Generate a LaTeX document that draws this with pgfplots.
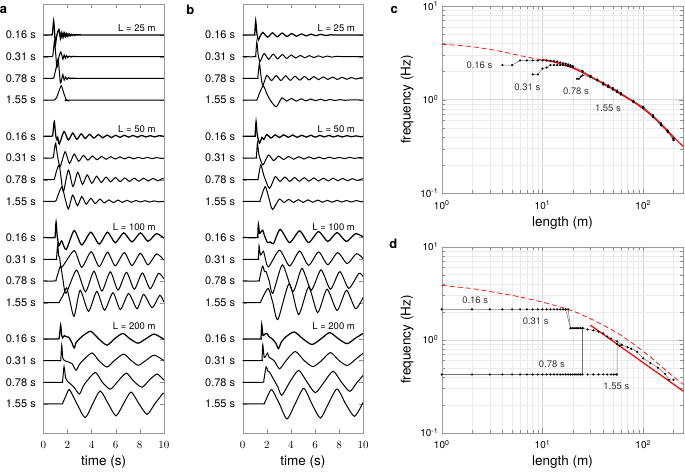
\documentclass[border=0pt]{standalone}
\usepackage{pgfplots}
\pgfplotsset{compat=1.18}
\usepackage{fontspec}
\setmainfont{TeX Gyre Heros}
\tikzset{
  lab/.style={anchor=east, font=\fontsize{9.5}{11}\selectfont},
  ann/.style={font=\fontsize{9.5}{11}\selectfont, text=black!80},
}
\pgfplotsset{
  trace/.style={black, line width=1.0pt, smooth, tension=0.4, mark=none, y filter/.expression={y-#1}},
  tracen/.style={trace=#1, line width=1.25pt},
  wave/.style={scale only axis, anchor=south west, width=120.5pt, height=429pt,
    xmin=0, xmax=10, ymin=-18.35, ymax=1.43,
    xtick={0,2,4,6,8,10},
    ytick={-17.01,-16.01,-15.01,-14.01,-12.34,-11.34,-10.34,-9.34,-7.67,-6.67,-5.67,-4.67,-3,-2,-1,0},
    yticklabels={1.55 s,0.78 s,0.31 s,0.16 s,1.55 s,0.78 s,0.31 s,0.16 s,1.55 s,0.78 s,0.31 s,0.16 s,1.55 s,0.78 s,0.31 s,0.16 s},
    axis line style={black!40}, tick style={black!45},
    tick label style={font=\fontsize{11}{13}\selectfont},
    xticklabel shift=5pt, yticklabel shift=4pt,
    xlabel={time (s)}, xlabel style={font=\fontsize{13.5}{16}\selectfont},
    clip=true},
  logax/.style={scale only axis, anchor=south west, width=241.6pt,
    xmin=1, xmax=250, ymin=0.1, ymax=10,
    xtick={1,10,100}, xticklabels={10\textsuperscript{0},10\textsuperscript{1},10\textsuperscript{2}},
    ytick={0.1,1,10}, yticklabels={10\textsuperscript{-1},10\textsuperscript{0},10\textsuperscript{1}},
    minor xtick={2,3,4,5,6,7,8,9,20,30,40,50,60,70,80,90,200},
    minor ytick={0.2,0.3,0.4,0.5,0.6,0.7,0.8,0.9,2,3,4,5,6,7,8,9},
    grid=both, major grid style={black!16}, minor grid style={black!8},
    axis line style={black!40}, tick style={black!45},
    tick label style={font=\fontsize{10}{12}\selectfont},
    xticklabel shift=4pt,
    xlabel={length (m)}, ylabel={frequency (Hz)},
    label style={font=\fontsize{13.5}{16}\selectfont}},
  ser/.style={black!55, line width=0.5pt, mark=*, mark size=0.8pt, mark options={black, draw=black}},
}
\begin{document}
\begin{tikzpicture}
\path[use as bounding box] (0,0) rectangle (685pt,475pt);

% ---------------- panel a ----------------
\begin{axis}[wave, at={(43.3pt,42pt)}]
% L = 25
\addplot[tracen=0] coordinates {(0,0)(0.65,0)(0.74,0.02)(0.82,0.45)(0.86,0.66)(0.92,0.3)(0.97,-0.2)(1.02,-0.42)(1.08,-0.15)(1.15,0.05)(1.22,0.18)(1.3,0.26)(1.36,0.05)(1.42,-0.15)(1.49,0.1)(1.56,-0.1)(1.63,0.09)(1.7,-0.08)(1.77,0.07)(1.84,-0.06)(1.91,0.06)(1.98,-0.05)(2.05,0.05)(2.12,-0.04)(2.19,0.04)(2.26,-0.03)(2.33,0.03)(2.4,-0.02)(2.5,0.02)(2.6,-0.015)(2.75,0.01)(2.9,0)(10,0)};
\addplot[trace=1] coordinates {(0,0)(0.7,0)(0.78,0.03)(0.86,0.4)(0.92,0.7)(0.98,0.45)(1.05,0.0)(1.12,-0.5)(1.2,-0.35)(1.3,0.0)(1.45,0.22)(1.55,0.05)(1.63,-0.12)(1.73,0.08)(1.83,-0.07)(1.93,0.05)(2.03,-0.04)(2.15,0.03)(2.3,-0.02)(2.45,0.01)(2.65,0)(10,0)};
\addplot[trace=2] coordinates {(0,0)(0.8,0)(0.88,0.04)(1.05,0.45)(1.22,0.9)(1.32,0.4)(1.42,-0.22)(1.52,-0.05)(1.62,0.18)(1.73,-0.08)(1.85,0.07)(1.97,-0.05)(2.1,0.04)(2.25,-0.02)(2.4,0.01)(2.6,0)(10,0)};
\addplot[trace=3] coordinates {(0,0)(0.9,0)(1.0,0.03)(1.15,0.18)(1.3,0.42)(1.5,0.66)(1.7,0.32)(1.9,0.03)(2.05,-0.03)(2.2,0)(10,0)};
% L = 50
\addplot[tracen=4.67] coordinates {(0,0)(0.7,0)(0.78,0.03)(0.85,0.45)(0.92,0.68)(1.0,0.2)(1.06,-0.05)(1.13,-0.15)(1.2,-0.05)(1.33,-0.35)(1.72,0.22)(2.08,-0.17)(2.44,0.15)(2.78,-0.14)(3.14,0.11)(3.48,-0.1)(3.83,0.09)(4.2,-0.08)(4.58,0.08)(4.93,-0.07)(5.3,0.06)(5.65,-0.06)(6.0,0.05)(6.36,-0.05)(6.72,0.05)(7.08,-0.04)(7.44,0.04)(7.8,-0.04)(8.16,0.04)(8.52,-0.03)(8.88,0.03)(9.24,-0.03)(9.6,0.03)(10,0)};
\addplot[trace=5.67] coordinates {(0,0)(0.75,0)(0.83,0.03)(0.95,0.5)(1.03,0.68)(1.15,0.2)(1.39,-0.4)(1.81,0.29)(2.17,-0.25)(2.56,0.18)(2.94,-0.15)(3.33,0.12)(3.7,-0.1)(4.08,0.09)(4.46,-0.08)(4.84,0.07)(5.22,-0.06)(5.6,0.06)(5.98,-0.05)(6.36,0.05)(6.74,-0.04)(7.12,0.04)(7.5,-0.04)(7.88,0.03)(8.26,-0.03)(8.64,0.03)(9.02,-0.03)(9.4,0.02)(9.78,-0.02)(10,0)};
\addplot[trace=6.67] coordinates {(0,0)(0.85,0)(0.92,0.03)(1.1,0.4)(1.31,0.68)(1.45,0.2)(1.67,-0.55)(2.08,0.45)(2.46,-0.32)(2.86,0.34)(3.25,-0.22)(3.64,0.22)(4.03,-0.17)(4.42,0.16)(4.81,-0.13)(5.2,0.12)(5.59,-0.1)(5.98,0.1)(6.37,-0.09)(6.76,0.08)(7.15,-0.08)(7.54,0.07)(7.93,-0.07)(8.32,0.07)(8.71,-0.06)(9.1,0.06)(9.49,-0.05)(9.88,0.05)(10,0.03)};
\addplot[trace=7.67] coordinates {(0,0)(0.95,0)(1.06,0.03)(1.3,0.4)(1.56,0.68)(1.8,0.15)(2.08,-0.35)(2.44,0.29)(2.83,-0.2)(3.19,0.22)(3.56,-0.13)(3.94,0.14)(4.31,-0.1)(4.69,0.1)(5.06,-0.07)(5.44,0.07)(5.81,-0.06)(6.19,0.06)(6.56,-0.05)(6.94,0.05)(7.31,-0.04)(7.69,0.04)(8.06,-0.03)(8.44,0.03)(8.81,-0.03)(9.19,0.02)(9.56,-0.02)(10,0)};
% L = 100
\addplot[tracen=9.34] coordinates {(0,0)(0.9,0)(0.98,0.05)(1.06,0.72)(1.15,0.1)(1.3,-0.38)(1.52,-0.15)(1.9,-0.55)(2.56,0.32)(3.19,-0.34)(3.94,0.25)(4.64,-0.3)(5.33,0.25)(5.97,-0.24)(6.67,0.22)(7.36,-0.2)(8.06,0.22)(8.69,-0.17)(9.39,0.18)(10,-0.02)};
\addplot[trace=10.34] coordinates {(0,0)(1.05,0)(1.1,0.05)(1.19,0.66)(1.28,0.15)(1.36,0.08)(1.53,-0.37)(2.56,0.4)(3.19,-0.37)(3.97,0.35)(4.64,-0.34)(5.33,0.32)(5.97,-0.3)(6.72,0.31)(7.36,-0.29)(8.06,0.28)(8.69,-0.26)(9.39,0.25)(10,-0.03)};
\addplot[trace=11.34] coordinates {(0,0)(1.0,0)(1.06,0.05)(1.25,0.4)(1.44,0.69)(1.62,0.1)(1.89,-0.57)(2.75,0.5)(3.5,-0.5)(4.2,0.45)(4.86,-0.46)(5.56,0.42)(6.2,-0.42)(6.9,0.4)(7.55,-0.38)(8.22,0.37)(8.87,-0.36)(9.55,0.35)(10,0.1)};
\addplot[trace=12.34] coordinates {(0,0)(1.25,0)(1.33,0.03)(1.65,0.35)(1.94,0.68)(2.2,0.1)(2.56,-0.63)(3.06,0.57)(3.75,-0.4)(4.44,0.52)(5.08,-0.35)(5.78,0.46)(6.39,-0.32)(7.08,0.42)(7.78,-0.28)(8.33,0.38)(9.03,-0.23)(9.67,0.34)(10,0.03)};
% L = 200
\addplot[tracen=14.01] coordinates {(0,0)(1.2,0)(1.32,0.05)(1.44,0.63)(1.52,0.2)(1.6,0.05)(1.75,0.15)(1.9,0.1)(2.1,0.08)(2.35,-0.15)(2.56,-0.42)(2.7,-0.2)(2.9,-0.05)(3.3,0.15)(3.94,0.35)(4.6,0.0)(5.28,-0.29)(5.9,0.0)(6.6,0.25)(7.2,0.0)(7.86,-0.2)(8.5,0.0)(9.2,0.22)(10,-0.02)};
\addplot[trace=15.01] coordinates {(0,0)(1.35,0)(1.45,0.05)(1.53,0.7)(1.62,0.1)(1.75,0.0)(2.0,-0.05)(2.4,-0.15)(2.72,-0.45)(3.1,-0.1)(4.03,0.35)(4.6,0.0)(5.28,-0.3)(5.9,0.0)(6.67,0.3)(7.3,0.0)(7.89,-0.22)(8.5,0.0)(9.2,0.25)(10,0.0)};
\addplot[trace=16.01] coordinates {(0,0)(1.5,0)(1.6,0.05)(1.72,0.72)(1.85,0.2)(2.0,0.05)(2.5,-0.2)(3.0,-0.54)(3.4,-0.1)(4.3,0.45)(4.9,0.0)(5.56,-0.32)(6.2,0.05)(6.89,0.42)(7.5,0.05)(8.19,-0.23)(8.8,0.1)(9.44,0.38)(10,0.1)};
\addplot[trace=17.01] coordinates {(0,0)(1.5,0)(1.6,0.03)(1.9,0.4)(2.17,0.66)(2.8,0.0)(3.47,-0.63)(4.1,0.0)(4.72,0.6)(5.4,0.0)(6.03,-0.55)(6.65,0.0)(7.28,0.55)(7.95,0.0)(8.61,-0.48)(9.25,0.0)(9.92,0.48)(10,0.47)};
\node[lab] at (axis cs:9.6,0.33) {L = 25 m};
\node[lab] at (axis cs:9.6,-4.36) {L = 50 m};
\node[lab] at (axis cs:9.6,-8.85) {L = 100 m};
\node[lab] at (axis cs:9.6,-13.44) {L = 200 m};
\end{axis}

% ---------------- panel b ----------------
\begin{axis}[wave, at={(242.7pt,42pt)}]
% L = 25
\addplot[tracen=0] coordinates {(0,0)(0.95,0)(1.0,0.05)(1.08,0.66)(1.17,0.1)(1.3,-0.23)(1.45,-0.05)(1.67,0.12)(2.07,-0.1)(2.47,0.1)(2.87,-0.08)(3.27,0.09)(3.67,-0.07)(4.07,0.07)(4.47,-0.06)(4.87,0.05)(5.27,-0.04)(5.67,0.04)(6.07,-0.03)(6.47,0.03)(6.87,-0.02)(7.3,0.01)(7.8,0)(10,0)};
\addplot[trace=1] coordinates {(0,0)(1.02,0)(1.08,0.05)(1.17,0.68)(1.28,0.1)(1.44,-0.22)(1.78,0.15)(2.15,-0.12)(2.53,0.12)(2.9,-0.1)(3.28,0.1)(3.65,-0.08)(4.03,0.08)(4.4,-0.06)(4.78,0.06)(5.15,-0.05)(5.53,0.05)(5.9,-0.04)(6.28,0.04)(6.65,-0.03)(7.03,0.03)(7.4,-0.02)(7.8,0.02)(8.3,0)(10,0)};
\addplot[trace=2] coordinates {(0,0)(1.2,0)(1.26,0.05)(1.39,0.69)(1.52,0.1)(1.67,-0.32)(2.0,0.14)(2.39,-0.1)(2.78,0.13)(3.17,-0.1)(3.56,0.12)(3.95,-0.09)(4.34,0.1)(4.73,-0.08)(5.12,0.09)(5.51,-0.07)(5.9,0.08)(6.29,-0.06)(6.68,0.07)(7.07,-0.05)(7.46,0.06)(7.85,-0.05)(8.24,0.05)(8.63,-0.04)(9.02,0.04)(9.41,-0.03)(9.8,0.03)(10,0.01)};
\addplot[trace=3] coordinates {(0,0)(1.1,0)(1.2,0.03)(1.45,0.4)(1.72,0.65)(2.0,0.3)(2.28,0.0)(2.78,-0.31)(3.25,0.1)(3.65,-0.05)(4.05,0.08)(4.45,-0.05)(4.85,0.06)(5.25,-0.04)(5.65,0.05)(6.05,-0.03)(6.45,0.04)(6.85,-0.03)(7.25,0.03)(7.65,-0.02)(8.05,0.02)(8.5,-0.01)(9,0.01)(10,0)};
% L = 50
\addplot[tracen=4.67] coordinates {(0,0)(0.98,0)(1.03,0.05)(1.11,0.68)(1.2,0.1)(1.39,-0.32)(1.6,-0.05)(1.75,-0.15)(2.0,0.08)(2.35,-0.08)(2.7,0.07)(3.05,-0.06)(3.4,0.07)(3.78,-0.05)(4.15,0.06)(4.52,-0.05)(4.9,0.05)(5.28,-0.04)(5.65,0.05)(6.02,-0.04)(6.4,0.04)(6.78,-0.03)(7.15,0.04)(7.52,-0.03)(7.9,0.03)(8.28,-0.03)(8.65,0.03)(9.02,-0.02)(9.4,0.02)(9.78,-0.02)(10,0)};
\addplot[trace=5.67] coordinates {(0,0)(1.08,0)(1.14,0.05)(1.22,0.68)(1.35,0.15)(1.67,-0.32)(2.14,0.14)(2.56,-0.12)(2.98,0.08)(3.4,-0.07)(3.82,0.07)(4.24,-0.06)(4.66,0.06)(5.08,-0.05)(5.5,0.05)(5.92,-0.04)(6.34,0.04)(6.76,-0.04)(7.18,0.04)(7.6,-0.03)(8.02,0.03)(8.44,-0.03)(8.86,0.03)(9.28,-0.02)(9.7,0.02)(10,0)};
\addplot[trace=6.67] coordinates {(0,0)(1.2,0)(1.28,0.05)(1.5,0.68)(1.75,0.2)(2.22,-0.4)(2.7,0.14)(3.1,-0.08)(3.5,0.12)(3.9,-0.08)(4.3,0.1)(4.7,-0.07)(5.1,0.09)(5.5,-0.07)(5.9,0.08)(6.3,-0.06)(6.7,0.07)(7.1,-0.06)(7.5,0.07)(7.9,-0.05)(8.3,0.06)(8.7,-0.05)(9.1,0.05)(9.5,-0.04)(9.9,0.04)(10,0.03)};
\addplot[trace=7.67] coordinates {(0,0)(1.35,0)(1.45,0.05)(1.86,0.68)(2.15,0.2)(2.47,-0.37)(3.03,0.1)(3.42,-0.05)(3.82,0.09)(4.22,-0.05)(4.62,0.08)(5.02,-0.05)(5.42,0.07)(5.82,-0.04)(6.22,0.06)(6.62,-0.04)(7.02,0.05)(7.42,-0.04)(7.82,0.05)(8.22,-0.03)(8.62,0.04)(9.02,-0.03)(9.42,0.04)(9.82,-0.02)(10,0)};
% L = 100
\addplot[tracen=9.34] coordinates {(0,0)(1.2,0)(1.25,0.05)(1.3,0.62)(1.4,0.2)(1.5,0.25)(1.67,0.34)(1.8,0.1)(2.06,-0.23)(2.3,-0.2)(2.56,-0.28)(3.11,0.38)(3.89,-0.23)(4.72,0.31)(5.47,-0.23)(6.3,0.28)(7.06,-0.18)(7.83,0.23)(8.6,-0.18)(9.36,0.18)(10,0.03)};
\addplot[trace=10.34] coordinates {(0,0)(1.25,0)(1.3,0.05)(1.36,0.62)(1.47,0.2)(1.72,0.37)(1.85,0.1)(2.14,-0.35)(3.06,0.42)(3.89,-0.31)(4.72,0.38)(5.47,-0.28)(6.3,0.34)(7.06,-0.25)(7.89,0.31)(8.67,-0.2)(9.44,0.26)(10,0.03)};
\addplot[trace=11.34] coordinates {(0,0)(1.3,0)(1.38,0.05)(1.64,0.69)(1.8,0.45)(1.94,0.43)(2.2,0.0)(2.5,-0.57)(3.3,0.74)(4.17,-0.49)(4.92,0.58)(5.69,-0.42)(6.5,0.51)(7.28,-0.38)(8.06,0.43)(8.8,-0.34)(9.64,0.35)(10,0.2)};
\addplot[trace=12.34] coordinates {(0,0)(1.4,0)(1.5,0.05)(1.8,0.4)(2.14,0.65)(2.5,0.0)(2.92,-0.78)(3.86,0.88)(4.64,-0.55)(5.47,0.72)(6.22,-0.46)(7.0,0.62)(7.83,-0.36)(8.61,0.57)(9.36,-0.28)(10,0.25)};
% L = 200
\addplot[tracen=14.01] coordinates {(0,0)(1.45,0)(1.52,0.05)(1.58,0.66)(1.68,0.15)(1.8,0.2)(2.0,0.25)(2.2,0.1)(2.45,0.0)(2.75,-0.2)(2.97,-0.45)(3.2,-0.15)(3.6,0.1)(4.28,0.32)(5.0,0.0)(5.75,-0.26)(6.5,0.0)(7.22,0.29)(7.95,0.0)(8.67,-0.22)(9.4,0.05)(10,0.25)};
\addplot[trace=15.01] coordinates {(0,0)(1.55,0)(1.6,0.05)(1.67,0.72)(1.78,0.15)(1.9,0.2)(2.06,0.34)(2.2,0.15)(2.6,0.0)(3.06,-0.38)(3.6,0.0)(4.36,0.42)(5.1,0.0)(5.83,-0.28)(6.55,0.0)(7.28,0.37)(8.0,0.0)(8.67,-0.23)(9.35,0.05)(10,0.34)};
\addplot[trace=16.01] coordinates {(0,0)(1.65,0)(1.75,0.08)(1.94,0.71)(2.1,0.5)(2.22,0.48)(2.5,0.2)(2.9,-0.2)(3.25,-0.6)(3.9,0.0)(4.64,0.55)(5.35,0.0)(6.03,-0.48)(6.75,0.0)(7.5,0.51)(8.2,0.0)(8.89,-0.42)(9.5,0.0)(10,0.32)};
\addplot[trace=17.01] coordinates {(0,0)(1.7,0)(1.8,0.03)(2.1,0.4)(2.42,0.66)(3.05,0.0)(3.67,-0.69)(4.35,0.0)(5.06,0.72)(5.75,0.0)(6.44,-0.65)(7.1,0.0)(7.83,0.69)(8.55,0.0)(9.28,-0.57)(10,0.08)};
\node[lab] at (axis cs:9.6,0.33) {L = 25 m};
\node[lab] at (axis cs:9.6,-4.36) {L = 50 m};
\node[lab] at (axis cs:9.6,-8.85) {L = 100 m};
\node[lab] at (axis cs:9.6,-13.44) {L = 200 m};
\end{axis}

% ---------------- panel c ----------------
\begin{loglogaxis}[logax, height=187.3pt, at={(441.7pt,281.7pt)}]
\addplot[red, line width=0.7pt, dash pattern=on 5pt off 3pt] coordinates {(1,3.9)(1.5,3.8)(2,3.68)(3,3.45)(4,3.25)(5,3.08)(7,2.85)(10,2.65)(12,2.56)};
\addplot[ser] coordinates {(4,2.34)(5,2.34)(6,2.62)(7,2.62)(8,2.62)(9,2.62)(10,2.62)(11,2.62)(12,2.6)(13,2.58)(14,2.55)(15,2.5)(16,2.45)(17,2.42)(18,2.38)(19,2.33)(20,2.28)(25,2.02)(30,1.8)(35,1.64)(40,1.52)(45,1.42)(50,1.33)(55,1.25)(60,1.18)(80,0.97)(100,0.84)(125,0.68)(150,0.56)(175,0.47)(200,0.39)};
\addplot[ser] coordinates {(8,1.86)(9,1.86)(10,2.15)(11,2.2)(12,2.34)(13,2.34)(14,2.34)(15,2.34)(16,2.34)(17,2.33)(18,2.3)(19,2.27)(20,2.22)(25,1.98)(30,1.77)(35,1.62)(40,1.5)(45,1.4)(50,1.31)(55,1.24)(60,1.17)(80,0.96)(100,0.83)(125,0.67)(150,0.55)(175,0.46)(200,0.38)};
\addplot[ser] coordinates {(22,1.67)(23,1.67)(24,1.76)(25,1.82)(30,1.74)(35,1.6)(40,1.47)(45,1.38)(50,1.29)(55,1.22)(60,1.15)(80,0.95)(100,0.82)(125,0.66)(150,0.54)(175,0.46)(200,0.37)};
\addplot[ser] coordinates {(40,1.45)(45,1.36)(50,1.28)(55,1.2)(60,1.13)(80,0.94)(100,0.81)(125,0.65)(150,0.53)(175,0.45)(200,0.37)};
\addplot[red, line width=1.2pt] coordinates {(10,2.68)(12,2.58)(15,2.42)(20,2.18)(25,1.95)(30,1.75)(40,1.49)(50,1.3)(60,1.15)(80,0.95)(100,0.8)(125,0.66)(150,0.55)(200,0.4)(250,0.315)};
\node[ann] at (axis cs:2.37,2.34) {0.16 s};
\node[ann] at (axis cs:7.08,1.37) {0.31 s};
\node[ann] at (axis cs:21.5,1.23) {0.78 s};
\node[ann] at (axis cs:44.7,0.81) {1.55 s};
\end{loglogaxis}

% ---------------- panel d ----------------
\begin{loglogaxis}[logax, height=186pt, at={(441.7pt,42.3pt)}]
\addplot[red, line width=0.7pt, dash pattern=on 5pt off 3pt] coordinates {(1,3.84)(2,3.55)(3,3.3)(5,3.0)(7,2.78)(10,2.54)(13,2.35)(15,2.25)(18.5,2.1)(22,1.96)(30,1.68)(40,1.44)(50,1.26)(60,1.12)(80,0.9)(100,0.75)(125,0.62)(150,0.52)(200,0.4)(250,0.33)};
\addplot[ser] coordinates {(1,2.12)(2,2.12)(3,2.12)(4,2.12)(5,2.12)(6,2.12)(7,2.12)(8,2.12)(9,2.12)(10,2.12)(11,2.12)(12,2.12)(13,2.12)(14,2.12)(15,2.12)(16,2.12)(17,2.12)(18,2.12)(19,1.33)};
\addplot[ser] coordinates {(17,2.12)(19,1.33)(20,1.33)(21,1.33)(22,1.33)(23,1.33)(24,1.33)(25,1.33)(28,1.29)(32,1.26)(36,1.22)(40,1.17)(44,1.08)(48,1.03)(55,0.96)(61,0.88)(70,0.83)(76,0.8)(87,0.74)(100,0.63)(118,0.56)(140,0.5)(165,0.43)(180,0.37)(200,0.37)};
\addplot[ser] coordinates {(1,0.423)(2,0.423)(3,0.423)(4,0.423)(5,0.423)(6,0.423)(7,0.423)(8,0.423)(9,0.423)(10,0.423)(11,0.423)(12,0.423)(13,0.423)(14,0.423)(15,0.423)(16,0.423)(17,0.423)(18,0.423)(19,0.423)(20,0.423)(21,0.423)(22,0.423)(23,0.423)(24,0.423)(25,0.423)(25,1.33)};
\addplot[ser] coordinates {(28,0.423)(32,0.423)(36,0.423)(40,0.423)(44,0.423)(48,0.423)(51,0.423)(54,0.423)(55,0.423)(55,0.9)(58,0.86)(61,0.88)};
\addplot[red, line width=1.2pt] coordinates {(30,1.43)(40,1.146)(50,0.965)(60,0.839)(80,0.672)(100,0.566)(125,0.476)(150,0.415)(200,0.332)(250,0.279)};
\node[ann] at (axis cs:2.15,2.69) {0.16 s};
\node[ann] at (axis cs:8.57,1.58) {0.31 s};
\node[ann] at (axis cs:12.4,0.54) {0.78 s};
\node[ann] at (axis cs:54.1,0.32) {1.55 s};
\end{loglogaxis}

\node[font=\bfseries\fontsize{13}{15}\selectfont] at (3.5pt,465pt) {a};
\node[font=\bfseries\fontsize{13}{15}\selectfont] at (190.3pt,465.5pt) {b};
\node[font=\bfseries\fontsize{13}{15}\selectfont] at (394.3pt,465pt) {c};
\node[font=\bfseries\fontsize{13}{15}\selectfont] at (393.3pt,231pt) {d};
\end{tikzpicture}
\end{document}
